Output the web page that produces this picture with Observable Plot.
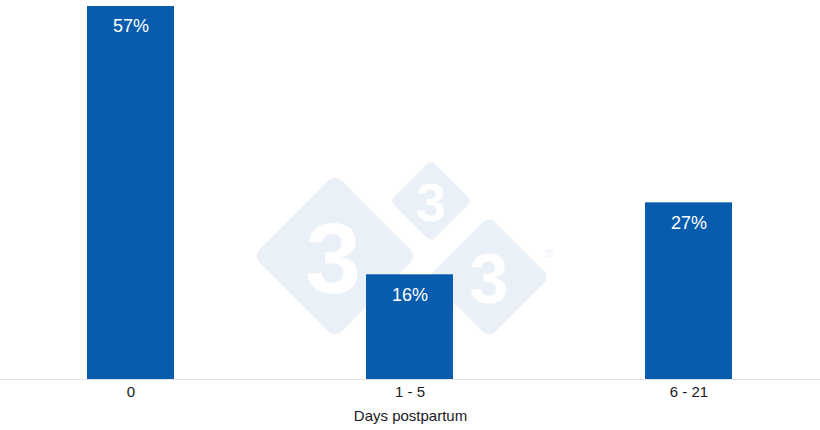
<!DOCTYPE html>
<html>
<head>
<meta charset="utf-8">
<script src="https://cdn.jsdelivr.net/npm/d3@7"></script>
<script src="https://cdn.jsdelivr.net/npm/@observablehq/plot@0.6"></script>
<style>
  html, body { margin: 0; padding: 0; background: #fff; }
  #wrap { position: relative; width: 820px; height: 430px; }
  #wm, #chart { position: absolute; left: 0; top: 0; }
</style>
</head>
<body>
<div id="wrap">
  <svg id="wm" width="820" height="430" font-family="Liberation Sans, Arial, sans-serif">
    <g fill="#eaf0f7">
      <rect x="-58" y="-58" width="116" height="116" rx="9" transform="translate(335,256) rotate(45)"/>
      <rect x="-29" y="-29" width="58" height="58" rx="6" transform="translate(431,201) rotate(45)"/>
      <rect x="-43" y="-43" width="86" height="86" rx="8" transform="translate(489,277) rotate(45)"/>
    </g>
    <g fill="#fff" font-weight="bold" text-anchor="middle">
      <text x="333" y="293" font-size="100">3</text>
      <text x="431" y="221" font-size="54">3</text>
      <text x="489" y="303" font-size="70">3</text>
    </g>
    <text x="549" y="257" font-size="11" fill="#eaf0f7" text-anchor="middle">®</text>
  </svg>
  <div id="chart"></div>
</div>
<script>
const categories = ["0", "1 - 5", "6 - 21"];
const values = [57, 16, 27];
const labels = ["57%", "16%", "27%"];
const xLabel = "Days postpartum";

const data = categories.map((c, i) => ({ day: c, value: values[i], label: labels[i] }));

const plot = Plot.plot({
  width: 820,
  height: 430,
  marginTop: 6,
  marginBottom: 51,
  marginLeft: 0,
  marginRight: 0,
  style: { fontFamily: "Liberation Sans, Arial, sans-serif", fontSize: "15px", background: "transparent", color: "#1a1a1a" },
  x: { domain: categories, paddingInner: 0.688, paddingOuter: 0.313, label: null },
  y: { domain: [0, 57], axis: null },
  marks: [
    Plot.barY(data, { x: "day", y: "value", fill: "#075cad" }),
    Plot.ruleY([0], { stroke: "#e3e3e3", strokeWidth: 1 }),
    Plot.text(data, { x: "day", y: "value", text: "label", fill: "#fff", fontSize: 18, dy: 20 }),
    Plot.axisX({ tickSize: 0, tickPadding: 7, fontSize: 15, label: null }),
    Plot.text([xLabel], { frameAnchor: "bottom", dy: 41, fontSize: 15, fill: "#1a1a1a" })
  ]
});
document.getElementById("chart").appendChild(plot);
</script>
</body>
</html>
